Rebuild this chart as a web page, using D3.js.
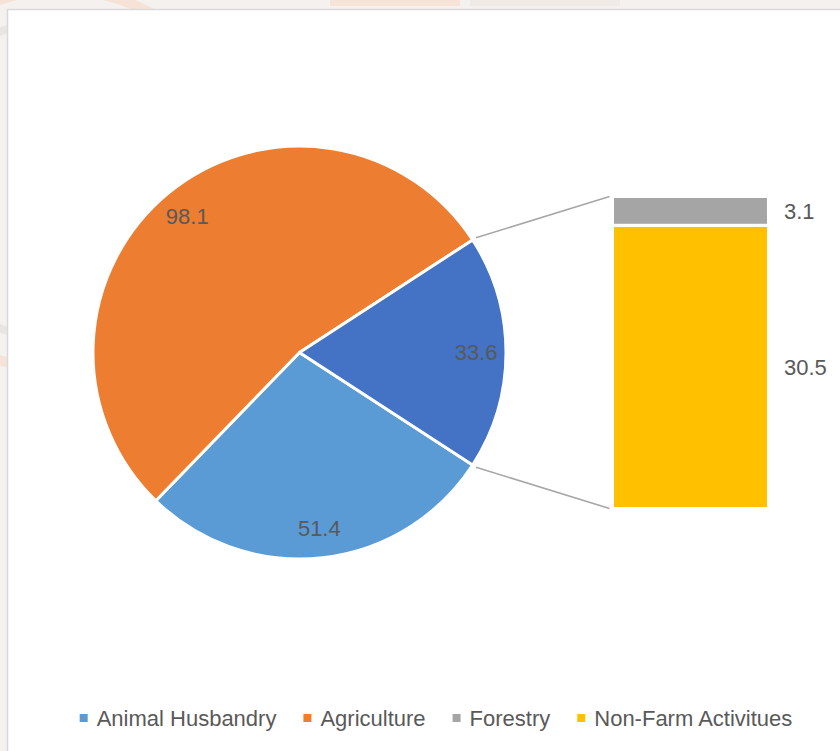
<!DOCTYPE html>
<html>
<head>
<meta charset="utf-8">
<script src="https://cdn.jsdelivr.net/npm/d3@7"></script>
<style>
  html, body { margin: 0; padding: 0; background: #f4f1ef; }
  svg { display: block; }
  text { font-family: "Liberation Sans", Arial, sans-serif; }
</style>
</head>
<body>
<svg id="chart" width="840" height="751"></svg>
<script>
// Pie: the main sectors plus the combined "Other" sector that is split into the bar
const pieCategories = ["Animal Husbandry", "Agriculture", "Other"];
const pieMainValues = [51.4, 98.1];
// Bar: breakdown of the "Other" sector (bottom to top)
const barCategories = ["Non-Farm Activitues", "Forestry"];
const barValues = [30.5, 3.1];
// Legend entries
const legendLabels = ["Animal Husbandry", "Agriculture", "Forestry", "Non-Farm Activitues"];

const pieValues = [...pieMainValues, d3.sum(barValues)];

const colors = {
  "Animal Husbandry": "#5B9BD5",
  "Agriculture": "#ED7D31",
  "Other": "#4472C4",
  "Forestry": "#A5A5A5",
  "Non-Farm Activitues": "#FFC000"
};
const labelColor = "#595959";
const fontSize = 22;

const svg = d3.select("#chart");
const W = 840, H = 751;

// faint backdrop behind the chart panel
const deco = svg.append("g").attr("fill", "none");
deco.append("circle").attr("cx", 60).attr("cy", 180).attr("r", 190)
  .attr("stroke", "#f7d9c4").attr("stroke-width", 10).attr("opacity", 0.6);
deco.append("circle").attr("cx", 60).attr("cy", 180).attr("r", 160)
  .attr("stroke", "#e2e0df").attr("stroke-width", 8).attr("opacity", 0.7);
deco.append("rect").attr("x", 330).attr("y", -20).attr("width", 130).attr("height", 26)
  .attr("fill", "#f6dcc9").attr("opacity", 0.6);
deco.append("rect").attr("x", 470).attr("y", -20).attr("width", 150).attr("height", 26)
  .attr("fill", "#ece7e3").attr("opacity", 0.7);

// chart panel
svg.append("rect")
  .attr("x", 7.5).attr("y", 9.5)
  .attr("width", W).attr("height", H)
  .attr("fill", "#ffffff")
  .attr("stroke", "#d9d9d9").attr("stroke-width", 1.5);

// ---- Pie ----
const cx = 299.5, cy = 352.5, r = 206.5;
const total = d3.sum(pieValues);
const otherAngle = pieValues[2] / total * 2 * Math.PI;
// "Other" sector is centred on the right-hand side, facing the bar
const startAngle = Math.PI / 2 + otherAngle / 2;

const pie = d3.pie().sort(null).value(d => d)
  .startAngle(startAngle).endAngle(startAngle + 2 * Math.PI);
const arcs = pie(pieValues);

const arc = d3.arc().innerRadius(0).outerRadius(r);
const labelArc = d3.arc().innerRadius(r * 0.855).outerRadius(r * 0.855);

const gPie = svg.append("g").attr("transform", `translate(${cx},${cy})`);
gPie.selectAll("path.slice")
  .data(arcs)
  .join("path")
  .attr("class", "slice")
  .attr("d", arc)
  .attr("fill", (d, i) => colors[pieCategories[i]])
  .attr("stroke", "#ffffff")
  .attr("stroke-width", 3)
  .attr("stroke-linejoin", "round");

gPie.selectAll("text.pie-label")
  .data(arcs)
  .join("text")
  .attr("class", "pie-label")
  .attr("transform", d => `translate(${labelArc.centroid(d)})`)
  .attr("text-anchor", "middle")
  .attr("dy", "0.36em")
  .attr("font-size", fontSize)
  .attr("fill", labelColor)
  .text(d => d3.format(".1f")(d.value));

// ---- Bar of the "Other" sector ----
const barX0 = 612.5, barX1 = 768.5;
const y = d3.scaleLinear().domain([0, d3.sum(barValues)]).range([508.5, 196.5]);
const stacked = [];
let acc = 0;
barValues.forEach((v, i) => { stacked.push({ name: barCategories[i], v, y0: acc, y1: acc + v }); acc += v; });

const gBar = svg.append("g");
gBar.selectAll("rect")
  .data(stacked)
  .join("rect")
  .attr("x", barX0)
  .attr("width", barX1 - barX0)
  .attr("y", d => y(d.y1))
  .attr("height", d => y(d.y0) - y(d.y1))
  .attr("fill", d => colors[d.name])
  .attr("stroke", "#ffffff")
  .attr("stroke-width", 3);

gBar.selectAll("text")
  .data(stacked)
  .join("text")
  .attr("x", barX1 + 15.5)
  .attr("y", d => y((d.y0 + d.y1) / 2))
  .attr("dy", "0.36em")
  .attr("font-size", fontSize)
  .attr("fill", labelColor)
  .text(d => d3.format(".1f")(d.v));

// ---- Connector lines from the "Other" sector to the bar ----
const otherArc = arcs[2];
const edgePoint = a => [cx + (r + 4) * Math.sin(a), cy - (r + 4) * Math.cos(a)];
const connectors = [
  [edgePoint(otherArc.startAngle), [barX0 - 3, y(d3.sum(barValues))]],
  [edgePoint(otherArc.endAngle), [barX0 - 3, y(0)]]
];
svg.append("g").selectAll("line")
  .data(connectors)
  .join("line")
  .attr("x1", d => d[0][0]).attr("y1", d => d[0][1])
  .attr("x2", d => d[1][0]).attr("y2", d => d[1][1])
  .attr("stroke", "#a6a6a6")
  .attr("stroke-width", 1.5);

// ---- Legend ----
const legendY = 718, markerSize = 8, markerGap = 9, itemGap = 27;
const gLegend = svg.append("g");
const items = gLegend.selectAll("g")
  .data(legendLabels)
  .join("g");
items.append("rect")
  .attr("width", markerSize).attr("height", markerSize)
  .attr("y", legendY - markerSize / 2)
  .attr("fill", d => colors[d]);
items.append("text")
  .attr("x", markerSize + markerGap)
  .attr("y", legendY)
  .attr("dy", "0.36em")
  .attr("font-size", fontSize)
  .attr("fill", labelColor)
  .text(d => d);

const widths = [];
items.each(function() { widths.push(this.querySelector("text").getComputedTextLength() + markerSize + markerGap); });
const totalW = d3.sum(widths) + itemGap * (widths.length - 1);
let xPos = 436 - totalW / 2;
items.each(function(d, i) {
  d3.select(this).attr("transform", `translate(${xPos},0)`);
  xPos += widths[i] + itemGap;
});
</script>
</body>
</html>
